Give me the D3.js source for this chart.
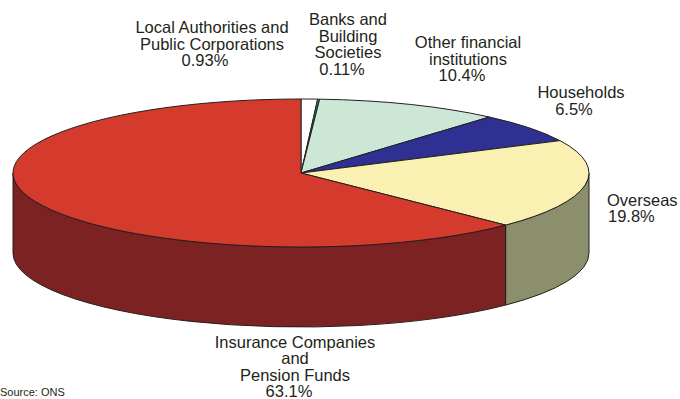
<!DOCTYPE html>
<html>
<head>
<meta charset="utf-8">
<script src="https://cdn.jsdelivr.net/npm/d3@7"></script>
<style>
  html, body { margin: 0; padding: 0; background: #fff; }
  svg { display: block; }
  text { font-family: "Liberation Sans", Arial, Helvetica, sans-serif; fill: #231f20; }
</style>
</head>
<body>
<svg id="chart" width="680" height="399"></svg>
<script>
// Holders of UK government securities, share of total (%)
const categories = [
  "Local Authorities and|Public Corporations",
  "Banks and|Building|Societies",
  "Other financial|institutions",
  "Households",
  "Overseas",
  "Insurance Companies|and|Pension Funds"
];
const values = [0.93, 0.11, 10.4, 6.5, 19.8, 63.1];
const valueLabels = ["0.93%", "0.11%", "10.4%", "6.5%", "19.8%", "63.1%"];

// Slice colours: top face and visible wall
const topColors  = ["#ffffff", "#12977a", "#cde7d7", "#2e3192", "#f9f0b1", "#d43b2c"];
const sideColors = ["#d9d9d9", "#0c6b56", "#9bb3a5", "#1d1f63", "#8c8f6b", "#7d2222"];

// Label anchors: x, y of first baseline, text-anchor, nudge of the percentage line
const labelLayout = [
  { x: 212, y: 33, anchor: "middle", pctDx: -7 },
  { x: 348, y: 25, anchor: "middle", pctDx: -6 },
  { x: 468, y: 48, anchor: "middle", pctDx: -6 },
  { x: 581, y: 98, anchor: "middle", pctDx: -7 },
  { x: 607, y: 205.5, anchor: "start", pctDx: 1 },
  { x: 295, y: 347.5, anchor: "middle", pctDx: -6 }
];
const lineHeight = 16.6;
const labelSize = 16.5;

const svg = d3.select("#chart");

// Ellipse geometry of the tilted pie
const cx = 301, cy = 173, rx = 288, ry = 74, depth = 80;

const pie = d3.pie().sort(null).value(d => d).startAngle(0).endAngle(2 * Math.PI);
const arcs = pie(values);

// point on the rim at angle a (clockwise from 12 o'clock), shifted down by dy
const pt = (a, dy = 0) => [cx + rx * Math.sin(a), cy - ry * Math.cos(a) + dy];

function topPath(a0, a1) {
  const p0 = pt(a0), p1 = pt(a1);
  const large = (a1 - a0) > Math.PI ? 1 : 0;
  return `M${cx},${cy}L${p0[0]},${p0[1]}A${rx},${ry} 0 ${large} 1 ${p1[0]},${p1[1]}Z`;
}

function sidePath(a0, a1) {
  const s0 = Math.max(a0, Math.PI / 2), s1 = Math.min(a1, 3 * Math.PI / 2);
  if (s0 >= s1) return null;
  const p0 = pt(s0), p1 = pt(s1), q1 = pt(s1, depth), q0 = pt(s0, depth);
  return `M${p0[0]},${p0[1]}A${rx},${ry} 0 0 1 ${p1[0]},${p1[1]}` +
         `L${q1[0]},${q1[1]}A${rx},${ry} 0 0 0 ${q0[0]},${q0[1]}Z`;
}

const stroke = "#231f20";

// walls first, then top faces
svg.append("g").selectAll("path")
  .data(arcs.filter(d => sidePath(d.startAngle, d.endAngle)))
  .join("path")
  .attr("d", d => sidePath(d.startAngle, d.endAngle))
  .attr("fill", d => sideColors[d.index])
  .attr("stroke", stroke)
  .attr("stroke-width", 1)
  .attr("stroke-linejoin", "round");

svg.append("g").selectAll("path")
  .data(arcs)
  .join("path")
  .attr("d", d => topPath(d.startAngle, d.endAngle))
  .attr("fill", d => topColors[d.index])
  .attr("stroke", stroke)
  .attr("stroke-width", 1)
  .attr("stroke-linejoin", "round");

// Category labels with their shares
const labels = svg.append("g").selectAll("text")
  .data(categories)
  .join("text")
  .attr("font-size", labelSize)
  .attr("text-anchor", (d, i) => labelLayout[i].anchor)
  .attr("x", (d, i) => labelLayout[i].x)
  .attr("y", (d, i) => labelLayout[i].y);

labels.each(function (d, i) {
  const L = labelLayout[i];
  const names = d.split("|");
  const lines = names.concat([valueLabels[i]]);
  d3.select(this).selectAll("tspan")
    .data(lines)
    .join("tspan")
    .attr("x", (l, j) => j === names.length ? L.x + L.pctDx : L.x)
    .attr("dy", (l, j) => j === 0 ? 0 : lineHeight)
    .text(l => l);
});

svg.append("text")
  .attr("x", 0)
  .attr("y", 396)
  .attr("font-size", 11)
  .text("Source: ONS");
</script>
</body>
</html>
